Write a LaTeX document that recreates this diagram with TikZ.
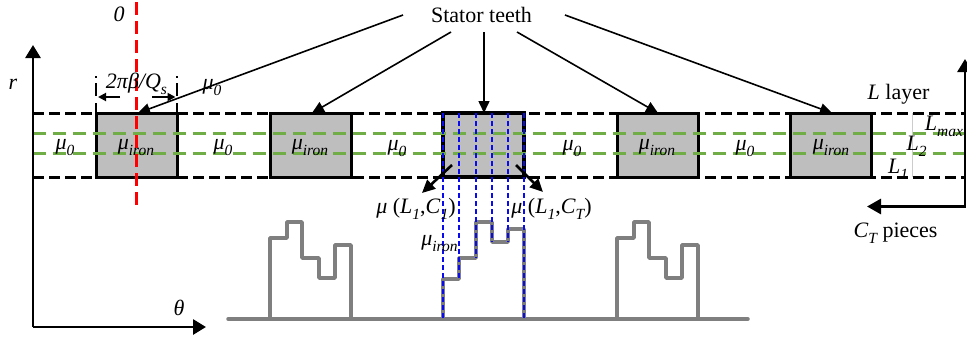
\documentclass[tikz,border=0pt]{standalone}
\usepackage{fontspec}
\setmainfont{Liberation Serif}
\usetikzlibrary{arrows.meta}
\definecolor{toothgray}{RGB}{190,190,190}
\definecolor{leaf}{RGB}{112,173,71}
\definecolor{wavegray}{RGB}{127,127,127}
\definecolor{bluedash}{RGB}{10,10,240}
\tikzset{
  lbl/.style={inner sep=0pt,outer sep=0pt,anchor=base,font=\fontsize{22}{24}\selectfont},
  tooth/.style={draw=black,fill=toothgray,line width=3pt,minimum width=81pt,minimum height=64pt,inner sep=0pt,outer sep=0pt,anchor=north west},
  ptr/.style={draw=black,line width=1.6pt,-{Triangle[length=12pt,width=11pt]}},
  axisarrow/.style={draw=black,line width=2.8pt,line join=miter,-{Triangle[length=13pt,width=15pt]}},
  cornerarrow/.style={draw=black,line width=2.6pt,-{Triangle[length=13pt,width=12pt]}},
  dimarrow/.style={draw=black,line width=1.8pt,-{Triangle[length=8pt,width=8pt]}},
  dimline/.style={draw=black,line width=2.2pt,dash pattern=on 2pt off 5pt on 13pt off 7pt on 20pt off 0pt},
  layerline/.style={draw=black,line width=3pt,dash pattern=on 11pt off 5pt},
  greenline/.style={draw=leaf,line width=3pt,dash pattern=on 13pt off 7pt},
  wave/.style={draw=wavegray,line width=3.5pt,line join=round,line cap=round},
  blueline/.style={draw=bluedash,line width=1.25pt,dash pattern=on 5pt off 3pt},
}
\newcommand{\subit}[1]{\raisebox{-.28em}{\fontsize{15.5}{16}\selectfont\itshape #1}}
\newcommand{\mui}[1]{\textit{μ}\subit{#1}}
\begin{document}
\begin{tikzpicture}[x=1pt,y=-1pt]
\useasboundingbox (0,0) rectangle (967,340);
% layer lines
\draw[layerline] (33,113) -- (965,113);
\draw[layerline] (33,177) -- (965,177);
\draw[gray!40,line width=.8pt] (912,113) -- (912,177);
% teeth
\node[tooth] (t1) at (96,113) {};
\node[tooth] (t2) at (270,113) {};
\node[tooth,line width=3.8pt] (t3) at (443,113) {};
\node[tooth] (t4) at (617,113) {};
\node[tooth] (t5) at (790.5,113) {};
\draw[greenline] (33,133) -- (965,133);
\draw[greenline] (33,153) -- (965,153);
% waveform
\draw[wave] (228,319) -- (748,319);
\draw[wave] (270,319) |- (287,238) |- (302,222) |- (319,258) |- (335,278) |- (351,245) -- (351,319);
\draw[wave] (617,319) |- (634,238) |- (649,222) |- (666,258) |- (682,278) |- (698,245) -- (698,319);
\draw[wave] (443,319) |- (459,279) |- (476,258) |- (492,222) |- (508,242) |- (524,229) -- (524,319);
% blue
\draw[blueline] (443,113) -- (443,319);
\draw[blueline] (459,113) -- (459,279);
\draw[blueline] (476,113) -- (476,258);
\draw[blueline] (492,113) -- (492,242);
\draw[blueline] (508,113) -- (508,242);
\draw[blueline] (524,113) -- (524,319);
% red axis
\draw[draw=red,line width=3.2pt,dash pattern=on 13pt off 6pt] (136.5,2) -- (136.5,210);
% axes
\coordinate (o) at (33,327);
\coordinate (rtip) at (33,45);
\coordinate (thtip) at (206,327);
\coordinate (cstart) at (965,59);
\coordinate (ccorner) at (965,206.5);
\coordinate (ctip) at (867,206.5);
\draw[axisarrow] (o) -- (rtip);
\draw[axisarrow] (o) -- (thtip);
\draw[axisarrow,{Triangle[length=13pt,width=15pt]}-{Triangle[length=14pt,width=15pt]}] (cstart) -- (ccorner) -- (ctip);
% dimension
\coordinate (d1a) at (96,76); \coordinate (d1b) at (96,113);
\coordinate (d2a) at (177,76); \coordinate (d2b) at (177,113);
\draw[dimline] (d1a) -- (d1b);
\draw[dimline] (d2a) -- (d2b);
\coordinate (d1) at (120,97); \coordinate (d1e) at (98,97);
\coordinate (d2) at (152,97); \coordinate (d2e) at (175.5,97);
\draw[dimarrow] (d1) -- (d1e);
\draw[dimarrow] (d2) -- (d2e);
% title and pointers
\node[lbl] (st) at (481.5,23) {Stator teeth};
\coordinate (s1) at (403,15); \coordinate (p1) at (138,113);
\coordinate (s2) at (451,32); \coordinate (p2) at (312,113);
\coordinate (s3) at (484,32); \coordinate (p3) at (484,113);
\coordinate (s4) at (517,32); \coordinate (p4) at (658,113);
\coordinate (s5) at (565,15); \coordinate (p5) at (832,113);
\draw[ptr] (s1) -- (p1);
\draw[ptr] (s2) -- (p2);
\draw[ptr] (s3) -- (p3);
\draw[ptr] (s4) -- (p4);
\draw[ptr] (s5) -- (p5);
% corner arrows
\coordinate (c1s) at (452,165); \coordinate (c1e) at (422,193);
\coordinate (c2s) at (516,165); \coordinate (c2e) at (543,192);
\draw[cornerarrow] (c1s) -- (c1e);
\draw[cornerarrow] (c2s) -- (c2e);
% labels
\node[lbl] (zero) at (119,21) {\itshape 0};
\node[lbl] (rlab) at (13,89) {\itshape r};
\node[lbl] (thetalab) at (179,315) {\itshape θ};
\node[lbl] (dimtxt) at (136.5,88) {\itshape 2πβ/Q\subit{s}};
\node[lbl] (m0a) at (212,89) {\mui{0}};
\node[lbl] (m0b) at (65,149) {\mui{0}};
\node[lbl] (m0c) at (223,149) {\mui{0}};
\node[lbl] (m0d) at (397,150) {\mui{0}};
\node[lbl] (m0e) at (572,150) {\mui{0}};
\node[lbl] (m0f) at (745,150) {\mui{0}};
\node[lbl] (mi1) at (136,149) {\mui{iron}};
\node[lbl] (mi2) at (310,149) {\mui{iron}};
\node[lbl] (mi4) at (657,149) {\mui{iron}};
\node[lbl] (mi5) at (831,149) {\mui{iron}};
\node[lbl] (mi6) at (439.5,245) {\mui{iron}};
\node[lbl] (mu1) at (416,213) {\textit{μ} (\textit{L}\subit{1},\textit{C}\subit{1})};
\node[lbl] (mu2) at (551.5,213) {\textit{μ} (\textit{L}\subit{1},\textit{C}\subit{T})};
\node[lbl] (llayer) at (898.5,99) {\textit{L} layer};
\node[lbl] (lmax) at (944,130) {\textit{L}\subit{max}};
\node[lbl] (l2) at (916.5,150) {\textit{L}\subit{2}};
\node[lbl] (l1) at (898,173) {\textit{L}\subit{1}};
\node[lbl] (ct) at (895.5,237) {\textit{C}\subit{T} pieces};
\end{tikzpicture}
\end{document}
